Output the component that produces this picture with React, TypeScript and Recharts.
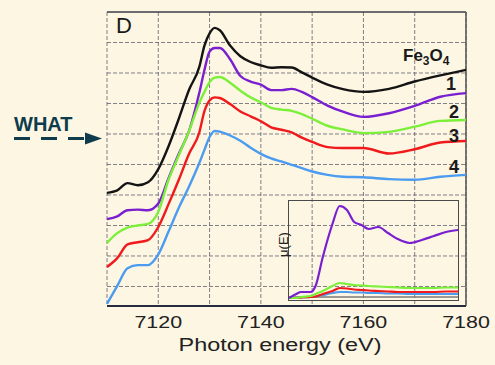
import { CartesianGrid, Line, LineChart, ReferenceLine, XAxis, YAxis } from "recharts"

// Fe K-edge XANES, main panel (values in grid units, offset per sample)
const energy = [
  7110, 7112, 7114, 7116, 7118, 7120, 7122, 7124, 7126, 7128, 7129, 7130, 7131, 7132, 7134, 7136, 7138, 7140,
  7142, 7144, 7146, 7148, 7150, 7153, 7156, 7160, 7165, 7170, 7175, 7180,
]
const fe3o4 = [
  3.07, 3.15, 3.39, 3.32, 3.42, 3.85, 4.6, 5.5, 6.45, 7.2, 7.9, 8.3, 8.48, 8.4, 7.9, 7.55, 7.36, 7.25, 7.17,
  7.19, 7.18, 7.02, 6.85, 6.62, 6.47, 6.38, 6.48, 6.72, 6.92, 7.1,
]
const sample1 = [
  2.21, 2.3, 2.5, 2.52, 2.5, 2.72, 3.55, 4.35, 5.1, 6.35, 7.1, 7.7, 7.82, 7.82, 7.45, 6.9, 6.72, 6.62, 6.44,
  6.44, 6.48, 6.38, 6.21, 5.93, 5.73, 5.56, 5.68, 5.92, 6.22, 6.34,
]
const sample2 = [
  1.43, 1.75, 1.93, 2.0, 2.05, 2.45, 3.5, 4.3, 5.1, 6.02, 6.38, 6.7, 6.85, 6.87, 6.68, 6.42, 6.2, 6.04, 5.86,
  5.8, 5.76, 5.65, 5.5, 5.27, 5.15, 5.03, 5.07, 5.24, 5.43, 5.46,
]
const sample3 = [
  0.64, 0.93, 1.38, 1.45, 1.52, 1.95, 2.7, 3.5, 4.35, 5.05, 5.75, 6.1, 6.2, 6.18, 5.98, 5.74, 5.58, 5.42, 5.22,
  5.14, 5.05, 4.88, 4.74, 4.57, 4.54, 4.54, 4.36, 4.5, 4.72, 4.77,
]
const sample4 = [
  -0.57, 0.02, 0.6, 0.7, 0.7, 1.05, 1.8, 2.58, 3.28, 4.05, 4.48, 4.9, 5.1, 5.08, 4.95, 4.78, 4.55, 4.35, 4.2,
  4.1, 3.99, 3.88, 3.77, 3.66, 3.6, 3.58, 3.52, 3.5, 3.6, 3.66,
]
const xTicks = [7110, 7120, 7130, 7140, 7150, 7160, 7170, 7180]
const xLabelled = [7120, 7140, 7160, 7180]
const yTicks = [0, 1, 2, 3, 4, 5, 6, 7, 8]

// inset: raw mu(E)
const insetEnergy = [
  7110, 7113, 7115, 7119, 7121, 7124, 7128, 7131, 7134, 7137, 7140, 7143, 7147, 7151, 7155, 7160, 7165, 7170,
  7175, 7180,
]
const inset1 = [2, 6, 8, 8, 14, 43, 76, 94, 90, 78, 75, 71, 73, 67, 61, 57, 60, 64, 68, 70]
const inset2 = [2, 2, 3, 4, 6, 9, 14, 17, 16, 15, 14.5, 14, 13.5, 13, 12.5, 12, 12, 12, 12.5, 12.5]
const inset3 = [2, 2, 2.5, 3, 3.5, 6, 9, 12, 11.5, 10.5, 10, 9.5, 9, 8.5, 8, 8, 8, 8, 8.5, 8.5]
const inset4 = [2, 2, 2.5, 3, 3.5, 5, 7, 8, 8, 7.5, 7.5, 7, 7, 6.5, 6.5, 6, 6, 6, 6, 6]
const insetBase = [3, 3, 3, 3, 3, 3, 3, 3, 3, 3, 3, 3, 3, 3, 3, 3, 3, 3, 3, 3]

const mainData = energy.map((e, i) => ({
  e,
  fe3o4: fe3o4[i],
  s1: sample1[i],
  s2: sample2[i],
  s3: sample3[i],
  s4: sample4[i],
}))
const insetData = insetEnergy.map((e, i) => ({
  e,
  s1: inset1[i],
  s2: inset2[i],
  s3: inset3[i],
  s4: inset4[i],
  base: insetBase[i],
}))

const COLORS = { fe3o4: "#141414", s1: "#7a1fd0", s2: "#7cef3a", s3: "#f01a1c", s4: "#4b9cf0" }
const FONT = "'Liberation Sans', Arial, Helvetica, sans-serif"
const GRID = "#555666"

const StretchedTick = (props: any) => {
  const { x, y, payload } = props
  if (!xLabelled.includes(payload.value)) return <g />
  return (
    <text
      x={0}
      y={0}
      dy={14}
      transform={`translate(${x},${y}) scale(1.3,1)`}
      textAnchor="middle"
      fontSize={16.5}
      fontFamily={FONT}
      fill="#222"
    >
      {payload.value}
    </text>
  )
}

const label = (text: React.ReactNode, left: number, top: number, size: number, bold = true) => (
  <div
    style={{
      position: "absolute",
      left,
      top,
      fontSize: size,
      lineHeight: `${size}px`,
      fontWeight: bold ? "bold" : "normal",
      fontFamily: FONT,
      color: "#1a1a1a",
      whiteSpace: "nowrap",
    }}
  >
    {text}
  </div>
)

export default function App() {
  return (
    <div
      style={{
        position: "absolute",
        left: 0,
        top: 0,
        width: 495,
        height: 365,
        background: "#fdf6e3",
        overflow: "hidden",
      }}
    >
      <LineChart width={495} height={365} data={mainData} margin={{ top: 12, right: 29, bottom: 29, left: 107 }}>
        <CartesianGrid horizontal={false} stroke={GRID} strokeDasharray="4 2" strokeOpacity={0.75} />
        <XAxis
          dataKey="e"
          type="number"
          domain={[7110, 7180]}
          ticks={xTicks}
          height={30}
          tickLine={false}
          axisLine={{ stroke: "#262b40", strokeWidth: 2 }}
          tick={<StretchedTick />}
        />
        <YAxis
          type="number"
          domain={[-0.64, 9]}
          ticks={yTicks}
          width={0}
          tick={false}
          tickLine={false}
          axisLine={{ stroke: "#262b40", strokeWidth: 2 }}
        />
        {yTicks.map((t) => (
          <ReferenceLine key={t} y={t} stroke={GRID} strokeDasharray="4 2" strokeOpacity={0.75} />
        ))}
        <ReferenceLine y={9} stroke="#3a3d4a" strokeWidth={1.5} />
        <ReferenceLine x={7180} stroke="#555" strokeWidth={1.5} />
        {(["fe3o4", "s1", "s2", "s3", "s4"] as const).map((k) => (
          <Line
            key={k}
            type="monotone"
            dataKey={k}
            stroke={COLORS[k]}
            strokeWidth={2.4}
            dot={false}
            isAnimationActive={false}
          />
        ))}
      </LineChart>

      {/* inset */}
      <div style={{ position: "absolute", left: 289, top: 201 }}>
        <LineChart width={169} height={99} data={insetData} margin={{ top: 0, right: 0, bottom: 0, left: 0 }}>
          <XAxis dataKey="e" type="number" domain={[7110, 7180]} hide />
          <YAxis type="number" domain={[0, 99]} hide />
          <Line type="monotone" dataKey="base" stroke="#7a7a7a" strokeWidth={1.5} dot={false} isAnimationActive={false} />
          {(["s4", "s3", "s2", "s1"] as const).map((k) => (
            <Line
              key={k}
              type="monotone"
              dataKey={k}
              stroke={COLORS[k]}
              strokeWidth={2.2}
              dot={false}
              isAnimationActive={false}
            />
          ))}
        </LineChart>
      </div>
      <div
        style={{
          position: "absolute",
          left: 288,
          top: 200,
          width: 171,
          height: 101,
          border: "1.5px solid #4a4a4a",
          boxSizing: "border-box",
        }}
      />
      <div
        style={{
          position: "absolute",
          left: 263,
          top: 238,
          width: 40,
          fontSize: 13,
          lineHeight: "13px",
          fontFamily: FONT,
          color: "#222",
          textAlign: "center",
          transform: "rotate(-90deg)",
        }}
      >
        μ(E)
      </div>

      {label("D", 116, 15, 22, false)}
      {label(
        <span>
          Fe<span style={{ fontSize: 12, position: "relative", top: 4 }}>3</span>O
          <span style={{ fontSize: 12, position: "relative", top: 4 }}>4</span>
        </span>,
        403,
        47,
        17,
      )}
      {label("1", 446, 75, 18)}
      {label("2", 449, 103, 18)}
      {label("3", 449, 127, 18)}
      {label("4", 449, 158, 18)}

      <div
        style={{
          position: "absolute",
          left: 130,
          top: 336,
          width: 300,
          textAlign: "center",
          fontSize: 18,
          lineHeight: "18px",
          fontFamily: FONT,
          color: "#222",
          transform: "scaleX(1.3)",
          transformOrigin: "150px 0",
        }}
      >
        Photon energy (eV)
      </div>

      <div
        style={{
          position: "absolute",
          left: 14,
          top: 114,
          fontSize: 20,
          lineHeight: "20px",
          fontWeight: "bold",
          fontFamily: FONT,
          color: "#0f3c4c",
        }}
      >
        WHAT
      </div>
      <svg width={110} height={20} style={{ position: "absolute", left: 0, top: 129 }}>
        <line x1={14} y1={9.5} x2={84} y2={9.5} stroke="#0f3c4c" strokeWidth={3} strokeDasharray="16 11" />
        <polygon points="85,3.5 102,9.5 85,15.5" fill="#0f3c4c" />
      </svg>
    </div>
  )
}
